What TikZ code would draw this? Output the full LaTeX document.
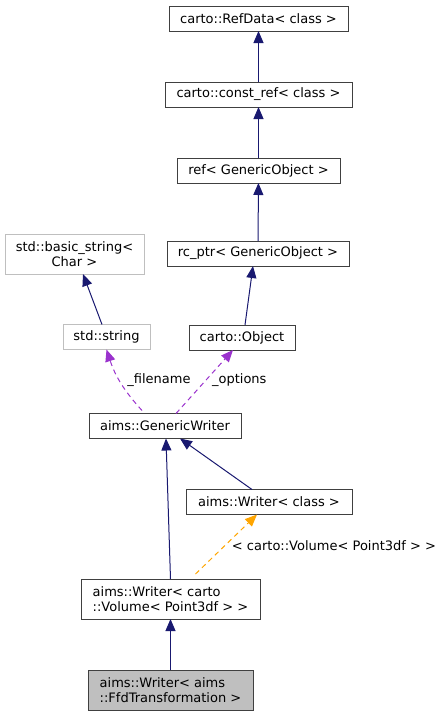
\documentclass[tikz,border=0pt]{standalone}
\usepackage{fontspec}
\setmainfont{DejaVu Sans}
\usetikzlibrary{arrows.meta,positioning}
\definecolor{inhblue}{HTML}{191970}
\definecolor{usepurple}{HTML}{9A32CD}
\definecolor{tmplorange}{HTML}{FFA500}
\definecolor{extgray}{HTML}{BFBFBF}
\definecolor{boxline}{HTML}{404040}
\tikzset{
	class diagram/.style={
		x=1pt, y=-1pt,
		font=\fontsize{13}{15}\selectfont,
		every node/.style={inner sep=0pt, outer sep=0pt},
		semithick},
	cls/.style={draw=boxline, line width=1pt, minimum height=25, align=center},
	cls2/.style={cls, minimum height=40},
	ext/.style={cls, draw=extgray},
	this/.style={cls2, fill=extgray},
	inh/.style={draw=inhblue, line width=1pt, -{Triangle[length=12,width=10]}},
	mem/.style={inh, draw=usepurple, dash pattern=on 5pt off 4pt,
		-{Triangle[length=12,width=10,fill=usepurple]}},
	tmpl/.style={inh, draw=tmplorange, dash pattern=on 5pt off 4pt,
		-{Triangle[length=12,width=10,fill=tmplorange]}},
	lbl/.style={font=\fontsize{13}{15}\selectfont}
}

\begin{document}
\begin{tikzpicture}[class diagram]
	\useasboundingbox (0,0) rectangle (443,716);
	\node[cls, minimum width=179] (refdata) at (258.5,18.5) {carto::RefData< class >};
	\node[cls, minimum width=187] (constref) at (258.5,94.5) {carto::const\_ref< class >};
	\node[cls, minimum width=163] (ref) at (258.5,170.5) {ref< GenericObject >};
	\node[cls, minimum width=182] (rcptr) at (258,253.5) {rc\_ptr< GenericObject >};
	\node[ext, minimum width=139, minimum height=40] (bstr) at (74.5,254) {std::basic\_string<\\Char >};
	\node[ext, minimum width=87] (str) at (106.5,337) {std::string};
	\node[cls, minimum width=106] (obj) at (242,337.5) {carto::Object};
	\node[cls, minimum width=152] (gw) at (165,426) {aims::GenericWriter};
	\node[cls, minimum width=166] (wclass) at (269,502) {aims::Writer< class >};
	\node[cls2, minimum width=179, align=left] (wvol) at (170.5,599) {aims::Writer< carto\\::Volume< Point3df > >};
	\node[this, minimum width=165, align=left] (wffd) at (170.5,690) {aims::Writer< aims\\::FfdTransformation >};

	\draw[inh] (constref) -- (refdata);
	\draw[inh] (ref) -- (constref);
	\draw[inh] (rcptr) -- (ref);
	\draw[inh] ([xshift=3]obj.north) -- ([xshift=-5]rcptr.south);
	\draw[inh] ([xshift=-4.5]str.north) -- ([xshift=8.5]bstr.south);
	\draw[mem] ([xshift=-23,yshift=3]gw.north) to[bend left=12] (str.south);
	\draw[mem] ([xshift=11]gw.north) -- ([xshift=-9]obj.south);
	\draw[inh] ([xshift=-17]wclass.north) -- ([xshift=15]gw.south);
	\draw[inh] (wvol.north) -- ([xshift=1]gw.south);
	\draw[tmpl] ([xshift=25,yshift=5]wvol.north) -- ([xshift=-12]wclass.south);
	\draw[inh] (wffd) -- (wvol);

	\node[lbl] (lfile) at (159,380.5) {\_filename};
	\node[lbl] (lopt) at (239.3,380.5) {\_options};
	\node[lbl] (ltmpl) at (334,546) {< carto::Volume< Point3df > >};
\end{tikzpicture}
\end{document}
